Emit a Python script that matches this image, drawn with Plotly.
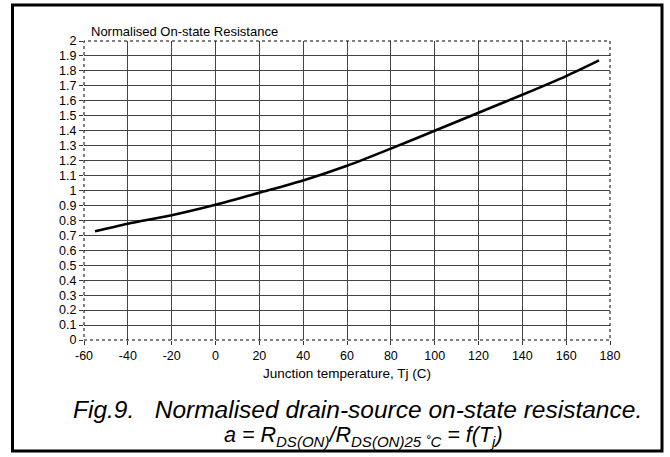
import plotly.graph_objects as go

# Data
temp_c = [-55, -40, -20, 0, 20, 40, 60, 80, 100, 120, 140, 160, 175]
norm_rds = [0.727, 0.778, 0.835, 0.905, 0.985, 1.067, 1.165, 1.28, 1.40, 1.52, 1.64, 1.765, 1.87]

x_ticks = list(range(-60, 181, 20))
x_labels = [str(v) for v in x_ticks]  # plain hyphen minus as in reference
y_ticks = [round(i * 0.1, 1) for i in range(0, 21)]
y_labels = [f"{v:g}" for v in y_ticks]

W, H = 670, 457
L, R, T, B = 84, 60, 41, 117
pw, ph = W - L - R, H - T - B

def px(x):
    return (x - L) / pw

def py(y):
    return (H - B - y) / ph

font_main = "Liberation Sans, Arial, sans-serif"

fig = go.Figure()
fig.add_trace(go.Scatter(x=temp_c, y=norm_rds, mode="lines",
                         line=dict(color="black", width=2.6, shape="spline", smoothing=0.8),
                         showlegend=False, hoverinfo="skip"))

fig.update_layout(
    width=W, height=H,
    margin=dict(l=L, r=R, t=T, b=B),
    paper_bgcolor="white", plot_bgcolor="white",
    font=dict(family=font_main, size=12, color="black"),
    xaxis=dict(range=[-60, 180], tickvals=x_ticks, ticktext=x_labels, showgrid=True,
               gridcolor="#444", gridwidth=1, zeroline=False,
               ticks="outside", ticklen=4, tickcolor="#333",
               tickfont=dict(size=12.5), showline=False,
               title=dict(text="Junction temperature, Tj (C)", font=dict(size=13.5), standoff=6)),
    yaxis=dict(range=[0, 2], tickvals=y_ticks, ticktext=y_labels, showgrid=True,
               gridcolor="#444", gridwidth=1, zeroline=False,
               ticks="outside", ticklen=4, tickcolor="#333",
               tickfont=dict(size=12.5), showline=False),
)

# dotted plot-area frame
fig.add_shape(type="rect", xref="paper", yref="paper", x0=0, x1=1, y0=0, y1=1,
              line=dict(color="black", width=1, dash="dot"))

# outer thick frame
fig.add_shape(type="rect", xref="paper", yref="paper",
              x0=px(12.5), x1=px(662), y0=py(451), y1=py(5),
              line=dict(color="black", width=3))

fig.add_annotation(text="Normalised On-state Resistance", xref="paper", yref="paper",
                   x=px(89), y=py(31), xanchor="left", yanchor="middle",
                   showarrow=False, font=dict(size=13))

fig.add_annotation(text="<i>Fig.9.&nbsp;&nbsp; Normalised drain-source on-state resistance.</i>",
                   xref="paper", yref="paper", x=px(357), y=py(409),
                   xanchor="center", yanchor="middle", showarrow=False,
                   font=dict(size=24.5))
fig.add_annotation(text="<i>a = R<sub>DS(ON)</sub>/R<sub>DS(ON)25 ˚C</sub> = f(T<sub>j</sub>)</i>",
                   xref="paper", yref="paper", x=px(363), y=py(436),
                   xanchor="center", yanchor="middle", showarrow=False,
                   font=dict(size=21.5))

fig.write_html("out.html", config={"displayModeBar": False},
               post_script="document.body.style.margin='0';")
